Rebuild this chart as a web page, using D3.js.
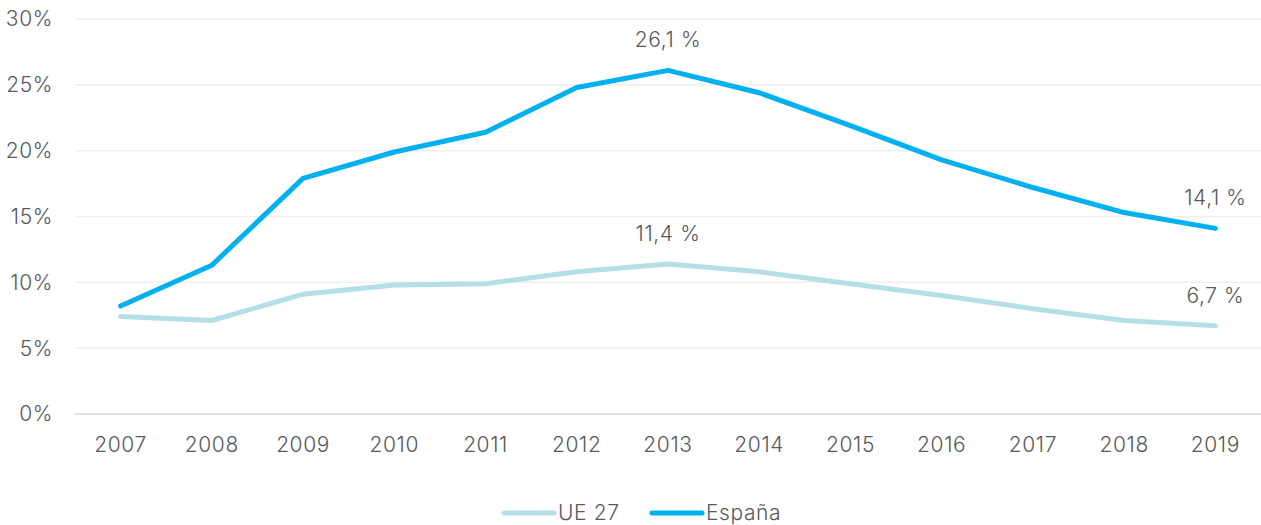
<!DOCTYPE html>
<html>
<head>
<meta charset="utf-8">
<script src="https://cdn.jsdelivr.net/npm/d3@7"></script>
<style>
  body { margin: 0; background: #fff; }
  svg text { font-family: "Inter", "Roboto", sans-serif; font-weight: 300; fill: #595959; letter-spacing: 0.6px; }
</style>
</head>
<body>
<div id="chart"></div>
<script>
const years = ["2007", "2008", "2009", "2010", "2011", "2012", "2013", "2014", "2015", "2016", "2017", "2018", "2019"];
const ue27 = [7.4, 7.1, 9.1, 9.8, 9.9, 10.8, 11.4, 10.8, 9.9, 9.0, 8.0, 7.1, 6.7];
const espana = [8.2, 11.3, 17.9, 19.9, 21.4, 24.8, 26.1, 24.4, 21.9, 19.3, 17.2, 15.3, 14.1];
const yTicks = [0, 5, 10, 15, 20, 25, 30];
const labelled = [
    { series: "espana", year: "2013", text: "26,1 %" },
    { series: "espana", year: "2019", text: "14,1 %" },
    { series: "ue27", year: "2013", text: "11,4 %" },
    { series: "ue27", year: "2019", text: "6,7 %" }
];

const width = 1261, height = 525;
const margin = { top: 19, right: 0, bottom: 111, left: 75 };

const svg = d3.select("#chart").append("svg")
    .attr("width", width)
    .attr("height", height);

const x = d3.scaleBand()
    .domain(years)
    .range([margin.left, width - margin.right]);

const y = d3.scaleLinear()
    .domain([0, 30])
    .range([height - margin.bottom, margin.top]);

const cx = d => x(d) + x.bandwidth() / 2;

// gridlines
svg.append("g")
    .selectAll("line")
    .data(yTicks.filter(t => t > 0))
    .enter().append("line")
    .attr("x1", margin.left)
    .attr("x2", width - margin.right)
    .attr("y1", d => y(d))
    .attr("y2", d => y(d))
    .attr("stroke", "#efefef")
    .attr("stroke-width", 1.5);

svg.append("line")
    .attr("x1", margin.left)
    .attr("x2", width - margin.right)
    .attr("y1", y(0))
    .attr("y2", y(0))
    .attr("stroke", "#d9d9d9")
    .attr("stroke-width", 1.5);

// y axis labels
svg.append("g")
    .selectAll("text")
    .data(yTicks)
    .enter().append("text")
    .attr("x", 53)
    .attr("y", d => y(d))
    .attr("dy", "0.35em")
    .attr("text-anchor", "end")
    .style("font-size", "21px")
    .text(d => d + "%");

// x axis labels
svg.append("g")
    .selectAll("text")
    .data(years)
    .enter().append("text")
    .attr("x", d => cx(d))
    .attr("y", 452)
    .attr("text-anchor", "middle")
    .style("font-size", "21px")
    .text(d => d);

const line = d3.line()
    .x((d, i) => cx(years[i]))
    .y(d => y(d));

const series = { ue27: { values: ue27, color: "#b4dfe5" }, espana: { values: espana, color: "#00b0f0" } };

["ue27", "espana"].forEach(k => {
    svg.append("path")
        .datum(series[k].values)
        .attr("fill", "none")
        .attr("stroke", series[k].color)
        .attr("stroke-width", 5)
        .attr("stroke-linejoin", "round")
        .attr("stroke-linecap", "round")
        .attr("d", line);
});

// data labels
svg.append("g")
    .selectAll("text")
    .data(labelled)
    .enter().append("text")
    .attr("x", d => cx(d.year))
    .attr("y", d => y(series[d.series].values[years.indexOf(d.year)]) - 23)
    .attr("text-anchor", "middle")
    .style("font-size", "21px")
    .text(d => d.text);

// legend
const legend = [
    { name: "UE 27", color: "#b4dfe5", x: 502 },
    { name: "España", color: "#00b0f0", x: 650 }
];
const lg = svg.append("g");
legend.forEach(l => {
    lg.append("line")
        .attr("x1", l.x + 2)
        .attr("x2", l.x + 52)
        .attr("y1", 513)
        .attr("y2", 513)
        .attr("stroke", l.color)
        .attr("stroke-width", 5)
        .attr("stroke-linecap", "round");
    lg.append("text")
        .attr("x", l.x + 56)
        .attr("y", 513)
        .attr("dy", "0.35em")
        .style("font-size", "21px")
        .text(l.name);
});
</script>
</body>
</html>
